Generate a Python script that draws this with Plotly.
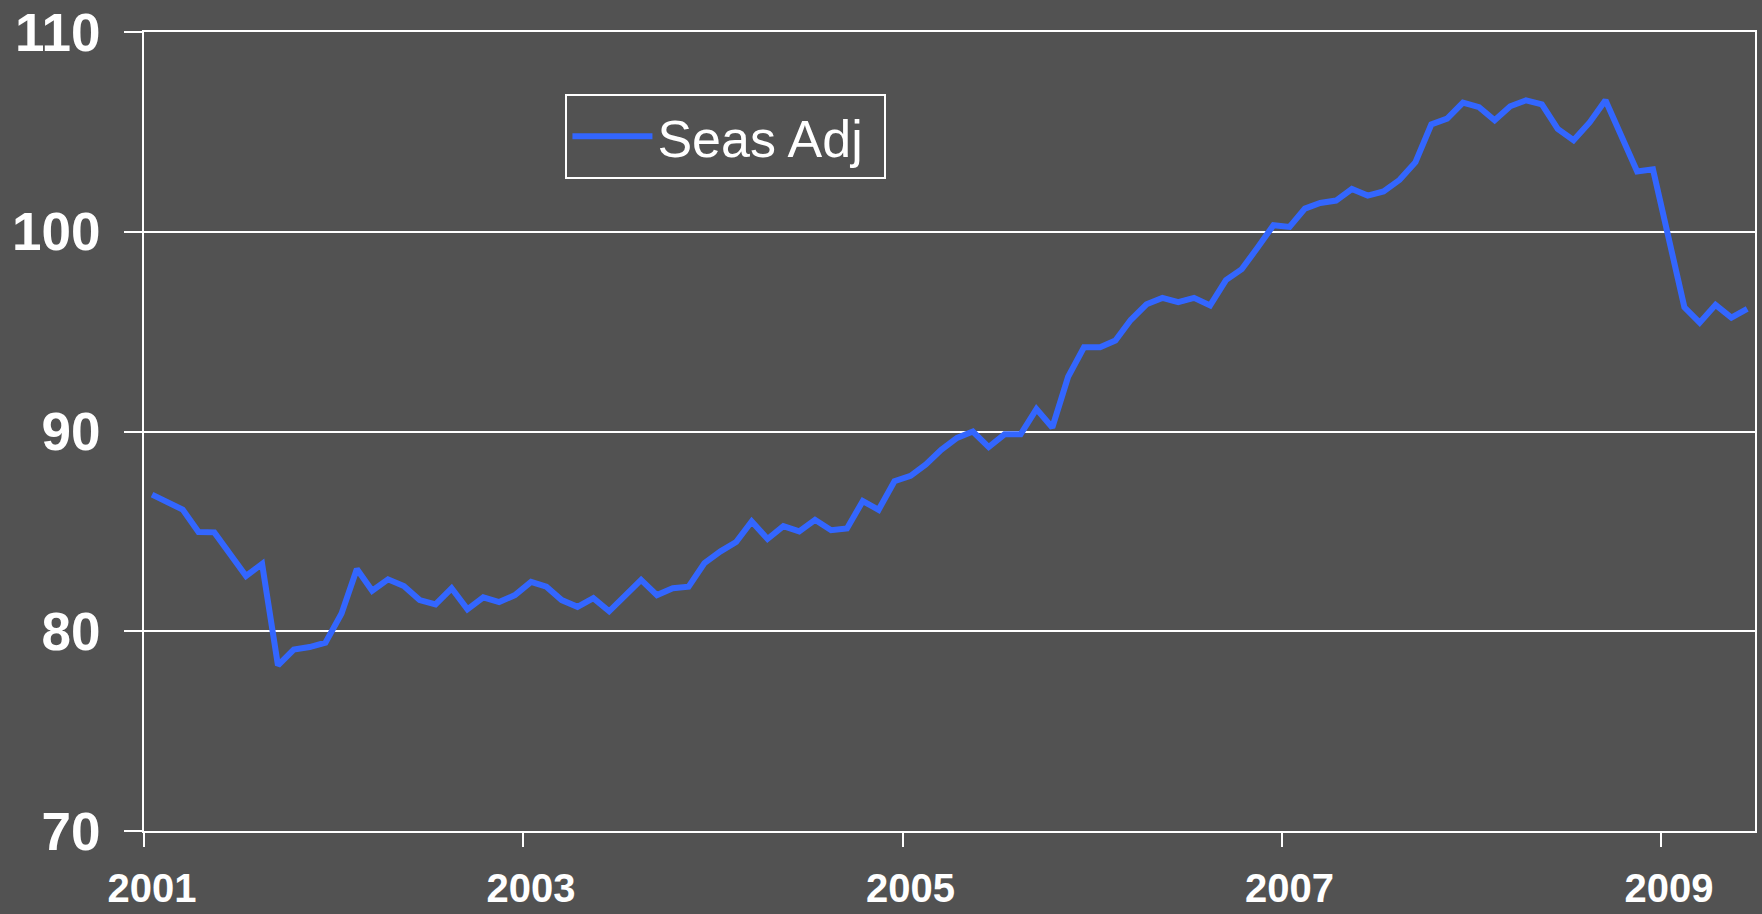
import plotly.graph_objects as go

months = [f"{y}-{m:02d}" for y in range(2001, 2010) for m in range(1, 13)][:102]

seas_adj = [
    86.84, 86.43, 86.09, 84.97, 84.95, 83.86, 82.77, 83.37, 78.29, 79.08, 79.21, 79.43,
    80.89, 83.12, 82.03, 82.60, 82.26, 81.56, 81.34, 82.15, 81.10, 81.70, 81.46, 81.81,
    82.47, 82.23, 81.56, 81.22, 81.66, 81.00, 81.81, 82.57, 81.81, 82.15, 82.23, 83.41,
    84.00, 84.47, 85.50, 84.62, 85.26, 85.00, 85.58, 85.06, 85.15, 86.52, 86.08, 87.51,
    87.78, 88.35, 89.08, 89.68, 90.00, 89.22, 89.86, 89.86, 91.12, 90.20, 92.74, 94.22,
    94.22, 94.55, 95.58, 96.37, 96.69, 96.47, 96.69, 96.31, 97.58, 98.13, 99.21, 100.33,
    100.24, 101.16, 101.44, 101.56, 102.14, 101.81, 102.02, 102.60, 103.48, 105.37, 105.66, 106.46,
    106.24, 105.58, 106.28, 106.58, 106.38, 105.15, 104.58, 105.47, 106.58, 104.75, 103.02, 103.13,
    99.45, 96.22, 95.45, 96.34, 95.70, 96.14,
]

tick_months = ["2001-01-01", "2003-01-01", "2005-01-01", "2007-01-01", "2009-01-01"]
tick_labels = ["2001", "2003", "2005", "2007", "2009"]
x_range = ["2001-01-01", "2009-07-01"]
y_ticks = [70, 80, 90, 100, 110]

BG = "#525252"
LINE = "#3366FF"
FONT = "Liberation Sans, Arial, sans-serif"

fig = go.Figure()
fig.add_trace(go.Scatter(
    x=months, y=seas_adj, mode="lines", name="Seas Adj",
    xperiod="M1", xperiodalignment="middle",
    line=dict(color=LINE, width=6),
))

fig.update_layout(
    width=1762, height=914,
    paper_bgcolor=BG, plot_bgcolor=BG,
    margin=dict(l=144, r=7, t=32, b=83),
    showlegend=True,
    legend=dict(
        x=0.2616, y=0.9225, xanchor="left", yanchor="top",
        orientation="h", entrywidth=222, entrywidthmode="pixels",
        bgcolor=BG, bordercolor="white", borderwidth=2,
        font=dict(family=FONT, size=52, color="white"),
        itemwidth=80,
    ),
    xaxis=dict(
        type="date", range=x_range,
        tickmode="array", tickvals=tick_months, ticktext=tick_labels,
        tickangle=0, ticklabelshift=8,
        ticks="outside", ticklen=14, tickwidth=2, tickcolor="white",
        showgrid=False, showline=True, linecolor="white", linewidth=2, mirror=True,
        tickfont=dict(family=FONT, size=40, color="white", weight="bold"),
        ticklabelstandoff=7, automargin=False,
        zeroline=False,
    ),
    yaxis=dict(
        range=[70, 110], tickvals=y_ticks,
        ticks="outside", ticklen=18, tickwidth=2, tickcolor="white",
        showgrid=True, gridcolor="white", gridwidth=2,
        showline=True, linecolor="white", linewidth=2, mirror=True,
        tickfont=dict(family=FONT, size=53, color="white", weight="bold"),
        ticklabelstandoff=13, automargin=False,
        zeroline=False,
    ),
)

fig.write_html(
    "out.html",
    config={"displayModeBar": False},
    post_script="document.body.style.margin='0';document.body.style.background='#525252';",
)
